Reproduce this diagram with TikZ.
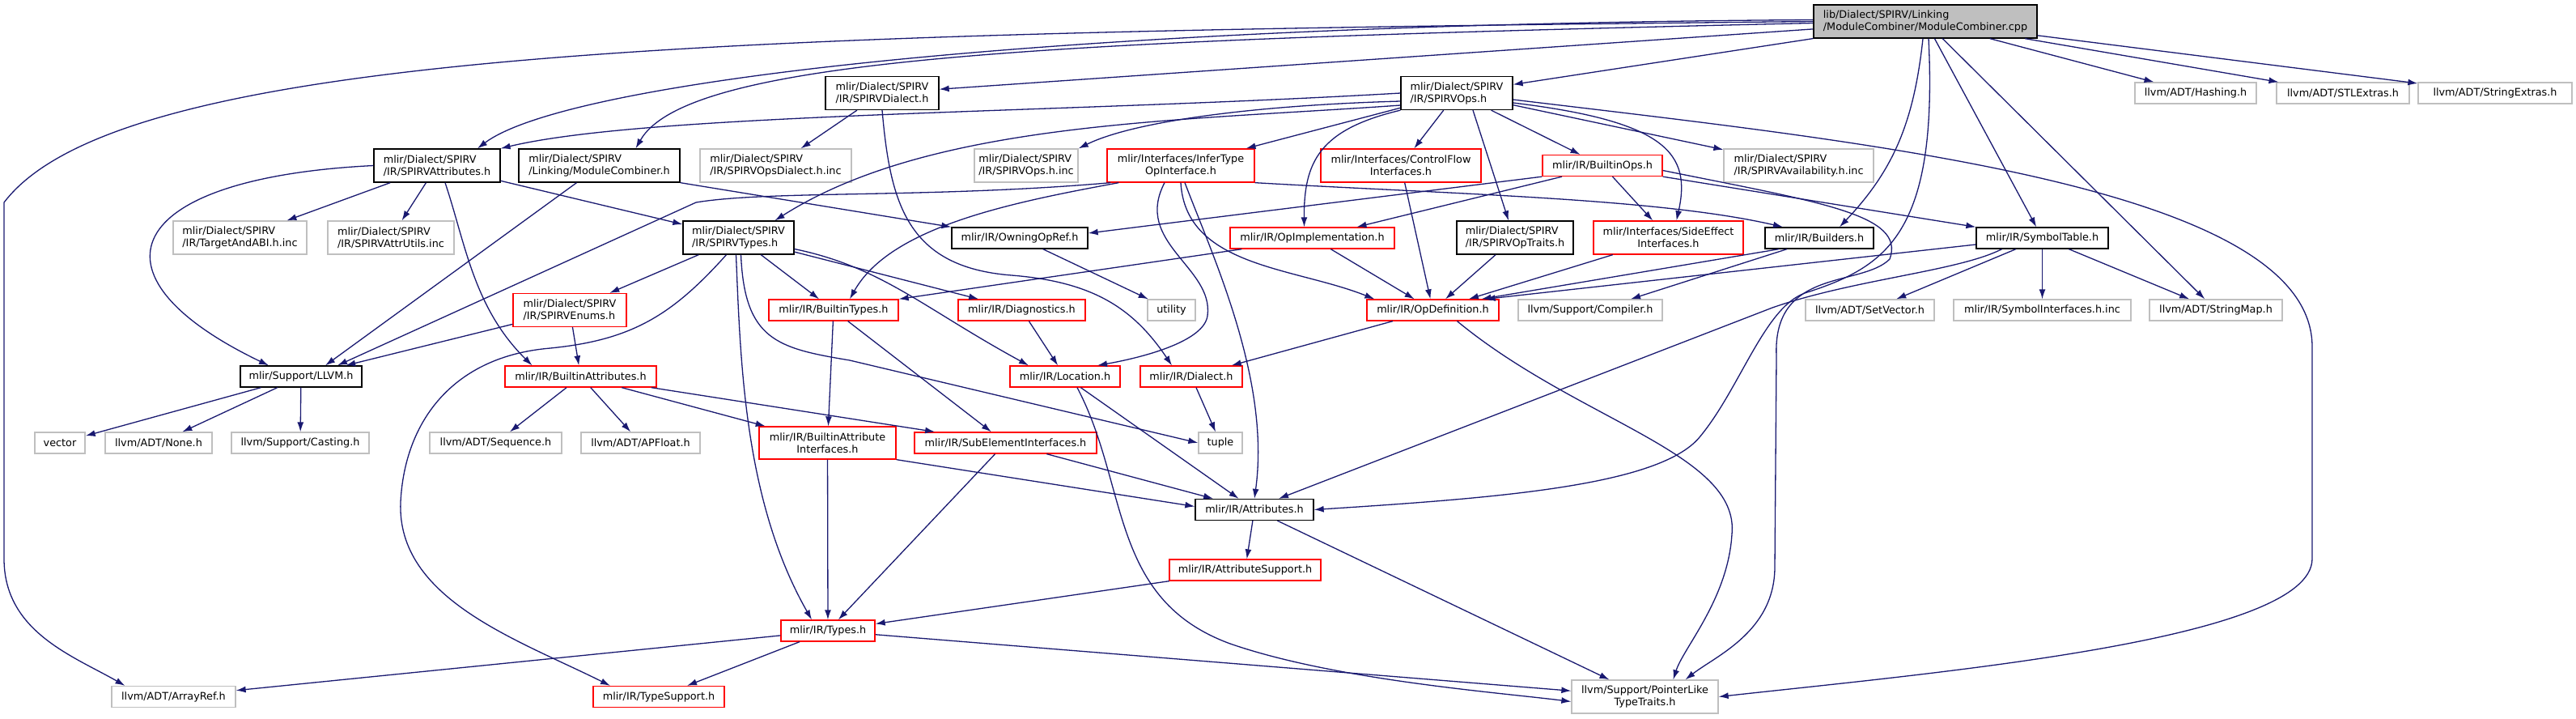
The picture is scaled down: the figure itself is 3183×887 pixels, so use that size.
\documentclass[tikz,border=0pt]{standalone}
\usepackage{fontspec}
\setmainfont{DejaVu Sans}
\usepackage{tikz}
\usetikzlibrary{arrows.meta}

\definecolor{edgeblue}{HTML}{191970}
\definecolor{nodocgray}{HTML}{BFBFBF}
\definecolor{truncred}{HTML}{FF0000}

\begin{document}
\begin{tikzpicture}[x=1pt, y=-1pt,
		box/.style={draw=black, fill=white, line width=1.3pt, inner xsep=3pt, inner ysep=1pt, minimum height=26pt, align=center, font=\fontsize{12.8}{15}\selectfont},
		two/.style={minimum height=41pt},
		leftal/.style={align=left},
		trunc/.style={box, draw=truncred},
		nodoc/.style={box, draw=nodocgray},
		incl/.style={edgeblue, line width=1.3pt, -{Latex[length=12pt,width=8pt]}}]
		\useasboundingbox (0,0) rectangle (3183,887);
		
		% Nodes
		\node[box, two, leftal, fill=nodocgray, minimum width=276pt] (root) at (2379,26.5) {lib/Dialect/SPIRV/Linking\\/ModuleCombiner/ModuleCombiner.cpp};
		
		\node[box, two, leftal, minimum width=140pt] (spvdialect) at (1090,115) {mlir/Dialect/SPIRV\\/IR/SPIRVDialect.h};
		\node[box, two, leftal, minimum width=138pt] (spvops) at (1800,115) {mlir/Dialect/SPIRV\\/IR/SPIRVOps.h};
		\node[nodoc, minimum width=150pt] (hashing) at (2713,115) {llvm/ADT/Hashing.h};
		\node[nodoc, minimum width=164pt] (stlextras) at (2895,115) {llvm/ADT/STLExtras.h};
		\node[nodoc, minimum width=190pt] (strextras) at (3083,115) {llvm/ADT/StringExtras.h};
		
		\node[box, two, leftal, minimum width=156pt] (spvattr) at (540,204.5) {mlir/Dialect/SPIRV\\/IR/SPIRVAttributes.h};
		\node[box, two, leftal, minimum width=199pt] (modcomb) at (740.5,204.5) {mlir/Dialect/SPIRV\\/Linking/ModuleCombiner.h};
		\node[nodoc, two, leftal, minimum width=187pt] (opsdialectinc) at (958.5,204.5) {mlir/Dialect/SPIRV\\/IR/SPIRVOpsDialect.h.inc};
		\node[nodoc, two, leftal, minimum width=128pt] (opsinc) at (1268,204.5) {mlir/Dialect/SPIRV\\/IR/SPIRVOps.h.inc};
		\node[trunc, two, minimum width=182pt] (infertype) at (1459,204.5) {mlir/Interfaces/InferType\\OpInterface.h};
		\node[trunc, two, minimum width=198pt] (controlflow) at (1731,204.5) {mlir/Interfaces/ControlFlow\\Interfaces.h};
		\node[trunc, minimum width=148pt] (builtinops) at (1980,204.5) {mlir/IR/BuiltinOps.h};
		\node[nodoc, two, leftal, minimum width=185pt] (availinc) at (2222.5,204.5) {mlir/Dialect/SPIRV\\/IR/SPIRVAvailability.h.inc};
		
		\node[nodoc, two, leftal, minimum width=165pt] (targetinc) at (296.5,293.5) {mlir/Dialect/SPIRV\\/IR/TargetAndABI.h.inc};
		\node[nodoc, two, leftal, minimum width=156pt] (attrutils) at (483,293.5) {mlir/Dialect/SPIRV\\/IR/SPIRVAttrUtils.inc};
		\node[box, two, leftal, minimum width=137pt] (spvtypes) at (912.5,293.5) {mlir/Dialect/SPIRV\\/IR/SPIRVTypes.h};
		\node[box, minimum width=168pt] (owningopref) at (1260,294) {mlir/IR/OwningOpRef.h};
		\node[trunc, minimum width=203pt] (opimpl) at (1621.5,294) {mlir/IR/OpImplementation.h};
		\node[box, two, leftal, minimum width=144pt] (spvoptraits) at (1872,293.5) {mlir/Dialect/SPIRV\\/IR/SPIRVOpTraits.h};
		\node[trunc, two, minimum width=185pt] (sideeffect) at (2061.5,293.5) {mlir/Interfaces/SideEffect\\Interfaces.h};
		\node[box, minimum width=134pt] (builders) at (2248,294) {mlir/IR/Builders.h};
		\node[box, minimum width=163pt] (symboltable) at (2523.5,294) {mlir/IR/SymbolTable.h};
		
		\node[trunc, two, leftal, minimum width=140pt] (spvenums) at (704,383) {mlir/Dialect/SPIRV\\/IR/SPIRVEnums.h};
		\node[trunc, minimum width=160pt] (builtintypes) at (1030,383) {mlir/IR/BuiltinTypes.h};
		\node[trunc, minimum width=157pt] (diagnostics) at (1262.5,383) {mlir/IR/Diagnostics.h};
		\node[nodoc, minimum width=59pt] (utility) at (1447.5,383) {utility};
		\node[trunc, minimum width=163pt] (opdef) at (1770.5,383) {mlir/IR/OpDefinition.h};
		\node[nodoc, minimum width=178pt] (compiler) at (1965,383) {llvm/Support/Compiler.h};
		\node[nodoc, minimum width=159pt] (setvector) at (2310.5,383) {llvm/ADT/SetVector.h};
		\node[nodoc, minimum width=219pt] (symifaceinc) at (2523.5,383) {mlir/IR/SymbolInterfaces.h.inc};
		\node[nodoc, minimum width=164pt] (stringmap) at (2738,383) {llvm/ADT/StringMap.h};
		
		\node[box, minimum width=150pt] (llvmh) at (372,465) {mlir/Support/LLVM.h};
		\node[trunc, minimum width=187pt] (builtinattrs) at (717.5,465) {mlir/IR/BuiltinAttributes.h};
		\node[trunc, minimum width=136pt] (location) at (1316,465) {mlir/IR/Location.h};
		\node[trunc, minimum width=126pt] (dialect) at (1472,465) {mlir/IR/Dialect.h};
		
		\node[nodoc, minimum width=62pt] (vector) at (74,547) {vector};
		\node[nodoc, minimum width=132pt] (nonehdr) at (196,547) {llvm/ADT/None.h};
		\node[nodoc, minimum width=170pt] (casting) at (371,547) {llvm/Support/Casting.h};
		\node[nodoc, minimum width=163pt] (sequence) at (612.5,547) {llvm/ADT/Sequence.h};
		\node[nodoc, minimum width=147pt] (apfloat) at (791.5,547) {llvm/ADT/APFloat.h};
		\node[trunc, two, minimum width=169pt, minimum height=40pt] (battrifaces) at (1022.5,547) {mlir/IR/BuiltinAttribute\\Interfaces.h};
		\node[trunc, minimum width=225pt] (subelem) at (1242.5,547) {mlir/IR/SubElementInterfaces.h};
		\node[nodoc, minimum width=54pt] (tuple) at (1508,547) {tuple};
		
		\node[box, minimum width=146pt] (attributes) at (1550,629.5) {mlir/IR/Attributes.h};
		\node[trunc, minimum width=187pt] (attrsupport) at (1538.5,704) {mlir/IR/AttributeSupport.h};
		\node[trunc, minimum width=116pt] (types) at (1023,779) {mlir/IR/Types.h};
		\node[nodoc, minimum width=153pt] (arrayref) at (214.5,860.5) {llvm/ADT/ArrayRef.h};
		\node[trunc, minimum width=162pt] (typesupport) at (814,860.5) {mlir/IR/TypeSupport.h};
		\node[nodoc, two, minimum width=181pt] (pointerlike) at (2032.5,860.5) {llvm/Support/PointerLike\\TypeTraits.h};
		
		% Edges from the source file
		\draw[incl] (root) -- (spvdialect);
		\draw[incl] (root) -- (spvops);
		\draw[incl] ([yshift=2pt]root.west) .. controls (1300,30) and (700,100) .. ([xshift=50pt]spvattr.north);
		\draw[incl] ([yshift=-2pt]root.west) .. controls (1300,50) and (850,70) .. ([xshift=45pt]modcomb.north);
		\draw[incl] (root.west) .. controls (900,40) and (150,60) .. (5,250) -- (5,690) .. controls (5,780) and (90,810) .. ([xshift=-60pt]arrayref.north);
		\draw[incl] (root) -- (hashing);
		\draw[incl] (root) -- (stlextras);
		\draw[incl] (root) -- (strextras);
		\draw[incl] ([xshift=-3pt]root.south) .. controls (2365,150) and (2340,210) .. ([xshift=25pt]builders.north);
		\draw[incl] (root) -- (symboltable);
		\draw[incl] (root) -- (stringmap);
		\draw[incl] ([xshift=4pt]root.south) .. controls (2395,290) and (2330,330) .. (2230,362) .. controls (2180,380) and (2150,480) .. (2100,540) .. controls (2050,600) and (1850,615) .. (attributes.east);
		
		% SPIRVDialect.h
		\draw[incl] (spvdialect) -- (opsdialectinc);
		\draw[incl] (spvdialect.south) .. controls (1100,250) and (1120,330) .. (1250,340) .. controls (1350,348) and (1400,380) .. ([xshift=-24pt]dialect.north);
		
		% SPIRVOps.h
		\draw[incl] (spvops.west) .. controls (1300,140) and (800,140) .. (spvattr.north east);
		\draw[incl] ([yshift=-10pt]spvops.west) .. controls (1550,130) and (1400,150) .. (opsinc.north east);
		\draw[incl] ([yshift=-15pt]spvops.west) .. controls (1450,150) and (1150,150) .. ([xshift=45pt]spvtypes.north);
		\draw[incl] (spvops) -- (infertype);
		\draw[incl] (spvops) -- (controlflow);
		\draw[incl] (spvops) -- (builtinops);
		\draw[incl] (spvops) -- (availinc);
		\draw[incl] (spvops.south west) .. controls (1630,160) and (1611,200) .. ([xshift=-10pt]opimpl.north);
		\draw[incl] ([xshift=20pt]spvops.south) -- ([xshift=-8pt]spvoptraits.north);
		\draw[incl] ([yshift=-12pt]spvops.east) .. controls (2060,150) and (2090,190) .. ([xshift=10pt]sideeffect.north);
		\draw[incl] ([yshift=-8pt]spvops.east) .. controls (2300,175) and (2860,230) .. (2857,430) -- (2857,690) .. controls (2857,790) and (2400,830) .. (pointerlike.east);
		
		% SPIRVAttributes.h and ModuleCombiner.h
		\draw[incl] (spvattr) -- (targetinc);
		\draw[incl] (spvattr) -- (attrutils);
		\draw[incl] (spvattr) -- (spvtypes);
		\draw[incl] (spvattr.west) .. controls (150,220) and (100,340) .. ([xshift=-40pt]llvmh.north);
		\draw[incl] ([xshift=10pt]spvattr.south) .. controls (575,300) and (585,380) .. ([xshift=-60pt]builtinattrs.north);
		\draw[incl] ([xshift=-28pt]modcomb.south) -- ([xshift=30pt]llvmh.north);
		\draw[incl] (modcomb.south east) -- (owningopref.north west);
		
		% InferTypeOpInterface.h
		\draw[incl] ([xshift=5pt]infertype.south west) .. controls (1150,245) and (950,235) .. (860,250) -- ([xshift=45pt]llvmh.north);
		\draw[incl] ([xshift=15pt]infertype.south west) .. controls (1250,250) and (1100,280) .. ([xshift=20pt]builtintypes.north);
		\draw[incl] ([xshift=-20pt]infertype.south) .. controls (1400,300) and (1500,330) .. (1492,390) .. controls (1488,420) and (1420,440) .. ([xshift=40pt]location.north);
		\draw[incl] (infertype.south) .. controls (1465,330) and (1600,330) .. ([xshift=10pt]opdef.north west);
		\draw[incl] ([xshift=5pt]infertype.south) .. controls (1500,320) and (1570,470) .. (attributes.north);
		\draw[incl] (infertype.south east) .. controls (1800,240) and (2050,245) .. ([xshift=-45pt]builders.north);
		
		% BuiltinOps.h
		\draw[incl] (builtinops.south west) -- ([yshift=6pt]owningopref.east);
		\draw[incl] ([xshift=-50pt]builtinops.south) -- ([xshift=55pt]opimpl.north);
		\draw[incl] (builtinops) -- (sideeffect);
		\draw[incl] (builtinops.south east) -- (symboltable.north west);
		\draw[incl] ([yshift=-6pt]builtinops.east) .. controls (2250,250) and (2355,265) .. (2335,320) .. controls (2300,355) and (2190,330) .. (2195,440) -- (2193,700) .. controls (2193,780) and (2120,810) .. ([xshift=50pt]pointerlike.north);
		
		% Interfaces, traits, builders, symbol table
		\draw[incl] ([xshift=15pt]opimpl.south west) -- (builtintypes.north east);
		\draw[incl] (opimpl) -- (opdef);
		\draw[incl] (controlflow) -- (opdef);
		\draw[incl] (spvoptraits) -- (opdef);
		\draw[incl] (sideeffect) -- (opdef);
		\draw[incl] ([xshift=-50pt]builders.south) -- ([xshift=60pt]opdef.north);
		\draw[incl] ([xshift=-40pt]builders.south) -- ([xshift=50pt]compiler.north);
		\draw[incl] ([yshift=-8pt]symboltable.west) -- ([xshift=65pt]opdef.north);
		\draw[incl] ([xshift=-50pt]symboltable.south) .. controls (2420,335) and (2290,345) .. (2190,380) -- ([xshift=30pt]attributes.north);
		\draw[incl] (symboltable) -- (setvector);
		\draw[incl] (symboltable) -- (symifaceinc);
		\draw[incl] (symboltable) -- (stringmap);
		
		% OpDefinition.h
		\draw[incl] (opdef) -- (dialect);
		\draw[incl] ([xshift=30pt]opdef.south) .. controls (1950,520) and (2150,560) .. (2140,660) .. controls (2135,740) and (2080,800) .. ([xshift=35pt]pointerlike.north);
		
		% SPIRVTypes.h
		\draw[incl] (spvtypes) -- (spvenums);
		\draw[incl] (spvtypes) -- (builtintypes);
		\draw[incl] (spvtypes) -- (diagnostics);
		\draw[incl] ([yshift=-14pt]spvtypes.east) .. controls (1090,330) and (1140,380) .. ([xshift=-45pt]location.north);
		\draw[incl] ([xshift=-3pt]spvtypes.south) .. controls (915,450) and (920,620) .. ([xshift=-20pt]types.north);
		\draw[incl] ([xshift=-15pt]spvtypes.south) .. controls (830,390) and (780,420) .. (680,430) .. controls (560,440) and (500,520) .. (495,620) .. controls (490,740) and (640,790) .. ([xshift=-60pt]typesupport.north);
		\draw[incl] ([xshift=3pt]spvtypes.south) .. controls (920,420) and (960,430) .. (1050,445) -- (tuple.west);
		
		% Lower headers
		\draw[incl] (spvenums) -- (llvmh);
		\draw[incl] (spvenums) -- (builtinattrs);
		\draw[incl] (builtintypes) -- (battrifaces);
		\draw[incl] (builtintypes) -- (subelem);
		\draw[incl] (diagnostics) -- (location);
		\draw[incl] (owningopref) -- (utility);
		\draw[incl] (location) -- (attributes);
		\draw[incl] ([xshift=15pt]location.south) .. controls (1395,600) and (1370,740) .. (1520,795) .. controls (1650,840) and (1850,855) .. ([yshift=-6pt]pointerlike.west);
		\draw[incl] (dialect) -- (tuple);
		\draw[incl] (llvmh) -- (vector);
		\draw[incl] (llvmh) -- (nonehdr);
		\draw[incl] (llvmh) -- (casting);
		\draw[incl] (builtinattrs) -- (sequence);
		\draw[incl] (builtinattrs) -- (apfloat);
		\draw[incl] (builtinattrs) -- (battrifaces);
		\draw[incl] (builtinattrs) -- (subelem);
		\draw[incl] (battrifaces) -- (types);
		\draw[incl] (battrifaces.south east) -- ([yshift=4pt]attributes.west);
		\draw[incl] (subelem) -- (types);
		\draw[incl] (subelem) -- (attributes);
		\draw[incl] (attributes) -- (attrsupport);
		\draw[incl] (attributes) -- (pointerlike);
		\draw[incl] (attrsupport) -- (types);
		\draw[incl] (types) -- (arrayref);
		\draw[incl] (types) -- (typesupport);
		\draw[incl] (types) -- (pointerlike);
	\end{tikzpicture}
\end{document}
